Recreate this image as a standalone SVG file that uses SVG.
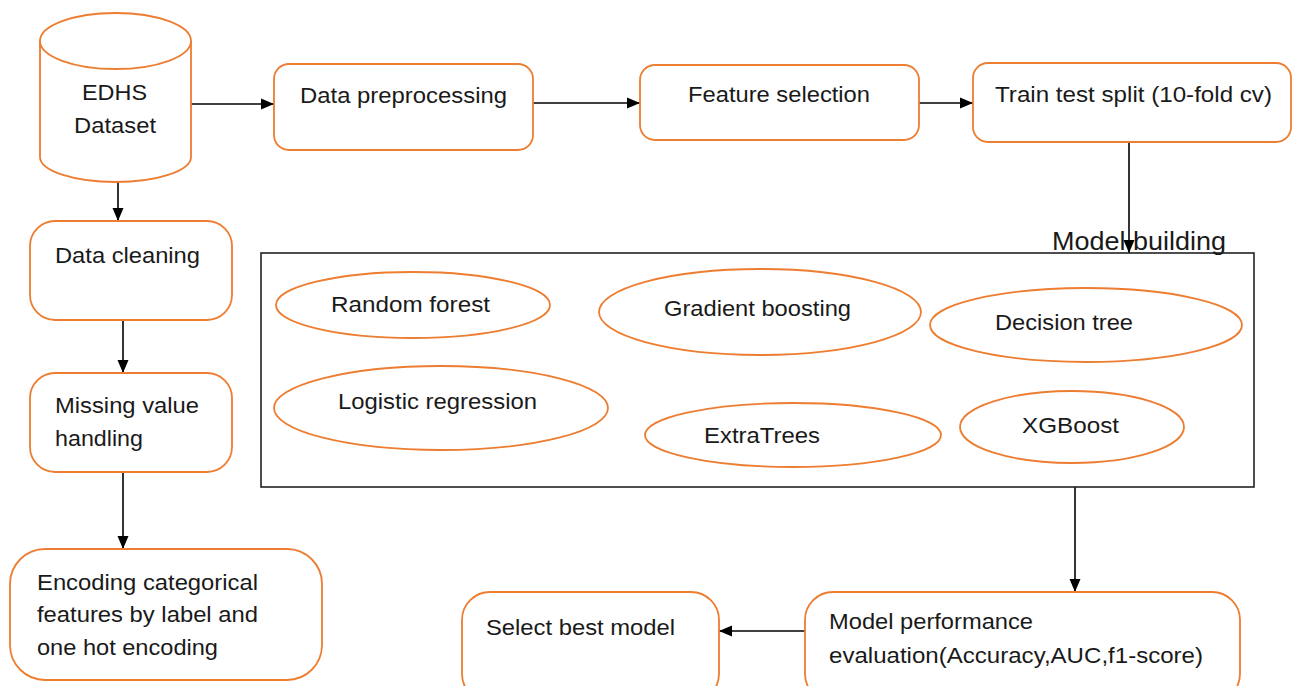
<svg xmlns="http://www.w3.org/2000/svg" width="1292" height="686" viewBox="0 0 1292 686">
<style>
.n{fill:#fff;stroke:#ED7D31;stroke-width:1.8}
.t{font-family:"Liberation Sans",Arial,sans-serif;font-size:22px;fill:#1a1a1a}
.c{fill:none;stroke:#000;stroke-width:1.6}
</style>
<defs>
<marker id="ah" markerUnits="userSpaceOnUse" markerWidth="14" markerHeight="14" viewBox="0 0 14 14" refX="13" refY="7" orient="auto">
<path d="M0,1.5 L13,7 L0,12.5 Z" fill="#000"/>
</marker>
</defs>
<rect width="1292" height="686" fill="#fff"/>
<g id="connectors">
<line class="c" x1="191" y1="104" x2="274" y2="104" marker-end="url(#ah)"/>
<line class="c" x1="533" y1="103" x2="640" y2="103" marker-end="url(#ah)"/>
<line class="c" x1="919" y1="103" x2="973" y2="103" marker-end="url(#ah)"/>
<line class="c" x1="1129" y1="142" x2="1129" y2="253" marker-end="url(#ah)"/>
<line class="c" x1="118" y1="182" x2="118" y2="221" marker-end="url(#ah)"/>
<line class="c" x1="123" y1="320" x2="123" y2="373" marker-end="url(#ah)"/>
<line class="c" x1="123" y1="472" x2="123" y2="549" marker-end="url(#ah)"/>
<line class="c" x1="1075" y1="487" x2="1075" y2="592" marker-end="url(#ah)"/>
<line class="c" x1="805" y1="631" x2="719" y2="631" marker-end="url(#ah)"/>
</g>
<g id="edhs">
<path class="n" d="M40,41 L40,157 A75.5,25 0 0 0 191,157 L191,41 A75.5,28 0 0 0 40,41 Z"/>
<path class="n" d="M40,41 A75.5,28 0 0 0 191,41" fill="none"/>
<text class="t" x="82" y="100" textLength="65" lengthAdjust="spacingAndGlyphs">EDHS</text>
<text class="t" x="74" y="133" textLength="82" lengthAdjust="spacingAndGlyphs">Dataset</text>
</g>
<g id="preprocessing">
<rect class="n" x="274" y="64" width="259" height="86" rx="15"/>
<text class="t" x="300" y="103" textLength="207" lengthAdjust="spacingAndGlyphs">Data preprocessing</text>
</g>
<g id="feature">
<rect class="n" x="640" y="65" width="279" height="75" rx="15"/>
<text class="t" x="688" y="102" textLength="182" lengthAdjust="spacingAndGlyphs">Feature selection</text>
</g>
<g id="split">
<rect class="n" x="973" y="63" width="318" height="79" rx="15"/>
<text class="t" x="995" y="102" textLength="277" lengthAdjust="spacingAndGlyphs">Train test split (10-fold cv)</text>
</g>
<g id="cleaning">
<rect class="n" x="30" y="221" width="202" height="99" rx="25"/>
<text class="t" x="55" y="263" textLength="145" lengthAdjust="spacingAndGlyphs">Data cleaning</text>
</g>
<g id="missing">
<rect class="n" x="30" y="373" width="202" height="99" rx="25"/>
<text class="t" x="55" y="413" textLength="144" lengthAdjust="spacingAndGlyphs">Missing value</text>
<text class="t" x="55" y="446" textLength="88" lengthAdjust="spacingAndGlyphs">handling</text>
</g>
<g id="encoding">
<rect class="n" x="10" y="549" width="312" height="131" rx="35"/>
<text class="t" x="37" y="590" textLength="221" lengthAdjust="spacingAndGlyphs">Encoding categorical</text>
<text class="t" x="37" y="622" textLength="221" lengthAdjust="spacingAndGlyphs">features by label and</text>
<text class="t" x="37" y="655" textLength="181" lengthAdjust="spacingAndGlyphs">one hot encoding</text>
</g>
<g id="modelbuilding">
<rect x="261" y="253" width="993" height="234" fill="none" stroke="#222" stroke-width="1.6"/>
<text class="t" x="1052" y="250" style="font-size:25px" textLength="174" lengthAdjust="spacingAndGlyphs">Model building</text>
</g>
<g id="rf">
<ellipse class="n" cx="413" cy="305" rx="137" ry="33"/>
<text class="t" x="331" y="312" textLength="159" lengthAdjust="spacingAndGlyphs">Random forest</text>
</g>
<g id="gb">
<ellipse class="n" cx="760" cy="312" rx="161" ry="43"/>
<text class="t" x="664" y="316" textLength="187" lengthAdjust="spacingAndGlyphs">Gradient boosting</text>
</g>
<g id="dt">
<ellipse class="n" cx="1086" cy="325" rx="156" ry="37"/>
<text class="t" x="995" y="330" textLength="138" lengthAdjust="spacingAndGlyphs">Decision tree</text>
</g>
<g id="lr">
<ellipse class="n" cx="441" cy="408" rx="167" ry="42"/>
<text class="t" x="338" y="409" textLength="199" lengthAdjust="spacingAndGlyphs">Logistic regression</text>
</g>
<g id="et">
<ellipse class="n" cx="793" cy="435" rx="148" ry="32"/>
<text class="t" x="704" y="443" textLength="116" lengthAdjust="spacingAndGlyphs">ExtraTrees</text>
</g>
<g id="xgb">
<ellipse class="n" cx="1072" cy="427" rx="112" ry="36"/>
<text class="t" x="1022" y="433" textLength="97" lengthAdjust="spacingAndGlyphs">XGBoost</text>
</g>
<g id="performance">
<rect class="n" x="805" y="592" width="435" height="110" rx="28"/>
<text class="t" x="829" y="629" textLength="204" lengthAdjust="spacingAndGlyphs">Model performance</text>
<text class="t" x="829" y="663" textLength="374" lengthAdjust="spacingAndGlyphs">evaluation(Accuracy,AUC,f1-score)</text>
</g>
<g id="best">
<rect class="n" x="462" y="592" width="257" height="110" rx="28"/>
<text class="t" x="486" y="635" textLength="189" lengthAdjust="spacingAndGlyphs">Select best model</text>
</g>
</svg>
